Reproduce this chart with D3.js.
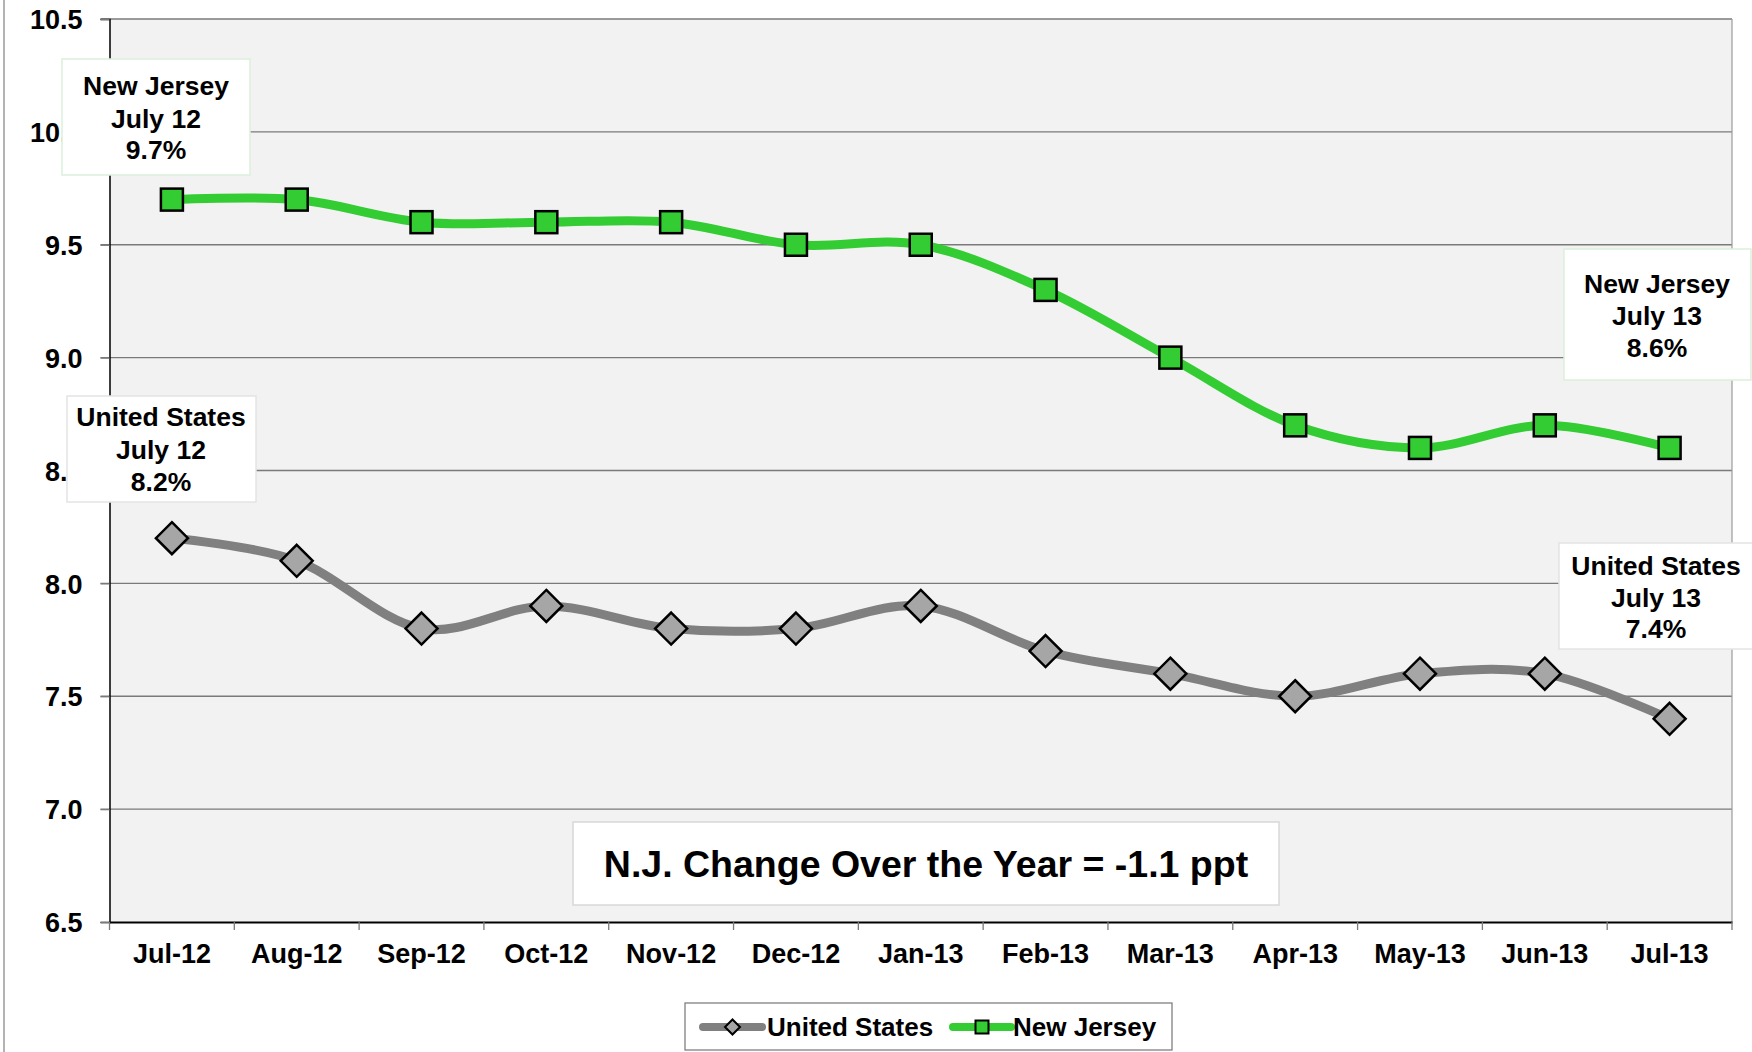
<!DOCTYPE html>
<html>
<head>
<meta charset="utf-8">
<script src="https://cdn.jsdelivr.net/npm/d3@7"></script>
<style>
  html, body { margin: 0; padding: 0; background: #ffffff; }
  svg { display: block; font-family: "Liberation Sans", Arial, sans-serif; font-weight: bold; }
  svg text { font-family: "Liberation Sans", Arial, sans-serif; font-weight: bold; }
</style>
</head>
<body>
<svg id="chart" width="1752" height="1052"></svg>
<script>
const months = ["Jul-12","Aug-12","Sep-12","Oct-12","Nov-12","Dec-12","Jan-13","Feb-13","Mar-13","Apr-13","May-13","Jun-13","Jul-13"];
const usValues = [8.2, 8.1, 7.8, 7.9, 7.8, 7.8, 7.9, 7.7, 7.6, 7.5, 7.6, 7.6, 7.4];
const njValues = [9.7, 9.7, 9.6, 9.6, 9.6, 9.5, 9.5, 9.3, 9.0, 8.7, 8.6, 8.7, 8.6];
const yTicks = [6.5, 7.0, 7.5, 8.0, 8.5, 9.0, 9.5, 10.0, 10.5];
const seriesNames = ["United States", "New Jersey"];
const calloutText = [
  ["New Jersey", "July 12", "9.7%"],
  ["United States", "July 12", "8.2%"],
  ["New Jersey", "July 13", "8.6%"],
  ["United States", "July 13", "7.4%"]
];
const changeText = "N.J. Change Over the Year = -1.1 ppt";

const svg = d3.select("#chart");
const W = 1752, H = 1052;
const plot = { left: 109.5, right: 1732, top: 19, bottom: 922 };

const x = d3.scaleBand().domain(months).range([plot.left, plot.right]).paddingInner(0).paddingOuter(0);
const y = d3.scaleLinear().domain([6.5, 10.5]).range([plot.bottom, plot.top]);
const cx = m => x(m) + x.bandwidth() / 2;

// outer chart border (left edge visible)
svg.append("line").attr("x1", 4).attr("x2", 4).attr("y1", 0).attr("y2", H)
  .attr("stroke", "#9a9a9a").attr("stroke-width", 1.5);

// plot background
svg.append("rect").attr("x", plot.left).attr("y", plot.top)
  .attr("width", plot.right - plot.left).attr("height", plot.bottom - plot.top)
  .attr("fill", "#f2f2f2");

// gridlines (extend left as tick marks)
svg.append("g").selectAll("line").data(yTicks.filter(v => v > 6.5)).join("line")
  .attr("x1", plot.left - 9).attr("x2", plot.right)
  .attr("y1", d => y(d)).attr("y2", d => y(d))
  .attr("stroke", "#7a7a7a").attr("stroke-width", 1.3);

// right border of plot
svg.append("line").attr("x1", plot.right).attr("x2", plot.right)
  .attr("y1", plot.top).attr("y2", plot.bottom)
  .attr("stroke", "#9a9a9a").attr("stroke-width", 1.2);

// y axis
const yAxis = d3.axisLeft(y).tickValues(yTicks).tickFormat(d3.format(".1f")).tickSize(9).tickPadding(18);
const gy = svg.append("g").attr("transform", `translate(${plot.left},0)`).call(yAxis);
gy.attr("font-family", null).attr("font-size", null);
gy.select(".domain").attr("stroke", "#000").attr("stroke-width", 1.5);
gy.selectAll(".tick line").attr("stroke", "#7a7a7a").attr("stroke-width", 1.3);
gy.selectAll(".tick text").attr("font-size", 27).attr("fill", "#000").attr("dy", "0.36em");

// x axis
const xAxis = d3.axisBottom(x).tickSize(0).tickPadding(0);
const gx = svg.append("g").attr("transform", `translate(0,${plot.bottom})`).call(xAxis);
gx.attr("font-family", null).attr("font-size", null);
gx.select(".domain").attr("stroke", "#000").attr("stroke-width", 2);
gx.selectAll(".tick text").attr("font-size", 27).attr("fill", "#000")
  .attr("y", 41).attr("dy", 0);
// boundary ticks
const bounds = months.map(m => x(m)).concat([plot.right]);
svg.append("g").selectAll("line").data(bounds).join("line")
  .attr("x1", d => d).attr("x2", d => d)
  .attr("y1", plot.bottom).attr("y2", plot.bottom + 8)
  .attr("stroke", "#7a7a7a").attr("stroke-width", 1.3);

// lines
const line = d3.line().x((d, i) => cx(months[i])).y(d => y(d)).curve(d3.curveCatmullRom.alpha(0));
svg.append("path").attr("d", line(usValues)).attr("fill", "none")
  .attr("stroke", "#808080").attr("stroke-width", 9).attr("stroke-linejoin", "round");
svg.append("path").attr("d", line(njValues)).attr("fill", "none")
  .attr("stroke", "#33cc33").attr("stroke-width", 9).attr("stroke-linejoin", "round");

// markers
const dsz = 16;
svg.append("g").selectAll("path").data(usValues).join("path")
  .attr("d", (d, i) => {
    const px = cx(months[i]), py = y(d);
    return `M${px},${py - dsz}L${px + dsz},${py}L${px},${py + dsz}L${px - dsz},${py}Z`;
  })
  .attr("fill", "#a6a6a6").attr("stroke", "#000").attr("stroke-width", 2.5).attr("stroke-linejoin", "miter");
const ssz = 22;
svg.append("g").selectAll("rect").data(njValues).join("rect")
  .attr("x", (d, i) => cx(months[i]) - ssz / 2).attr("y", d => y(d) - ssz / 2)
  .attr("width", ssz).attr("height", ssz)
  .attr("fill", "#33cc33").attr("stroke", "#000").attr("stroke-width", 2.5);

// callout boxes
const boxes = [
  { x0: 62, y0: 59, x1: 250, y1: 175, border: "#dcefdc", cxp: 156, base: [95, 128, 159] },
  { x0: 67, y0: 396, x1: 256, y1: 502, border: "#e4e4e4", cxp: 161, base: [426, 459, 491] },
  { x0: 1564, y0: 249, x1: 1751, y1: 380, border: "#dcefdc", cxp: 1657, base: [293, 325, 357] },
  { x0: 1559, y0: 543, x1: 1762, y1: 649, border: "#e4e4e4", cxp: 1656, base: [575, 607, 638] }
];
boxes.forEach((b, k) => {
  svg.append("rect").attr("x", b.x0).attr("y", b.y0).attr("width", b.x1 - b.x0).attr("height", b.y1 - b.y0)
    .attr("fill", "#ffffff").attr("stroke", b.border).attr("stroke-width", 1.5);
  calloutText[k].forEach((t, j) => {
    svg.append("text").attr("x", b.cxp).attr("y", b.base[j]).attr("text-anchor", "middle")
      .attr("font-size", 26.5).attr("fill", "#000").text(t);
  });
});

// change box
svg.append("rect").attr("x", 573).attr("y", 822).attr("width", 706).attr("height", 83)
  .attr("fill", "#ffffff").attr("stroke", "#d8d8d8").attr("stroke-width", 1.5);
svg.append("text").attr("x", 926).attr("y", 877).attr("text-anchor", "middle")
  .attr("font-size", 37.5).attr("fill", "#000").text(changeText);

// legend
const lg = svg.append("g");
lg.append("rect").attr("x", 685).attr("y", 1003).attr("width", 487).attr("height", 47)
  .attr("fill", "#ffffff").attr("stroke", "#808080").attr("stroke-width", 1.3);
const legendItems = [
  { name: seriesNames[0], color: "#808080", lx0: 703, lx1: 762, tx: 767, shape: "diamond" },
  { name: seriesNames[1], color: "#33cc33", lx0: 953, lx1: 1011, tx: 1013, shape: "square" }
];
const ly = 1027;
legendItems.forEach(it => {
  lg.append("line").attr("x1", it.lx0).attr("x2", it.lx1).attr("y1", ly).attr("y2", ly)
    .attr("stroke", it.color).attr("stroke-width", 8).attr("stroke-linecap", "round");
  const mx = (it.lx0 + it.lx1) / 2;
  if (it.shape === "diamond") {
    const s = 7.5;
    lg.append("path").attr("d", `M${mx},${ly - s}L${mx + s},${ly}L${mx},${ly + s}L${mx - s},${ly}Z`)
      .attr("fill", "#a6a6a6").attr("stroke", "#000").attr("stroke-width", 2);
  } else {
    const s = 13;
    lg.append("rect").attr("x", mx - s / 2).attr("y", ly - s / 2).attr("width", s).attr("height", s)
      .attr("fill", "#33cc33").attr("stroke", "#000").attr("stroke-width", 2);
  }
  lg.append("text").attr("x", it.tx).attr("y", 1036).attr("font-size", 26).attr("fill", "#000").text(it.name);
});
</script>
</body>
</html>
